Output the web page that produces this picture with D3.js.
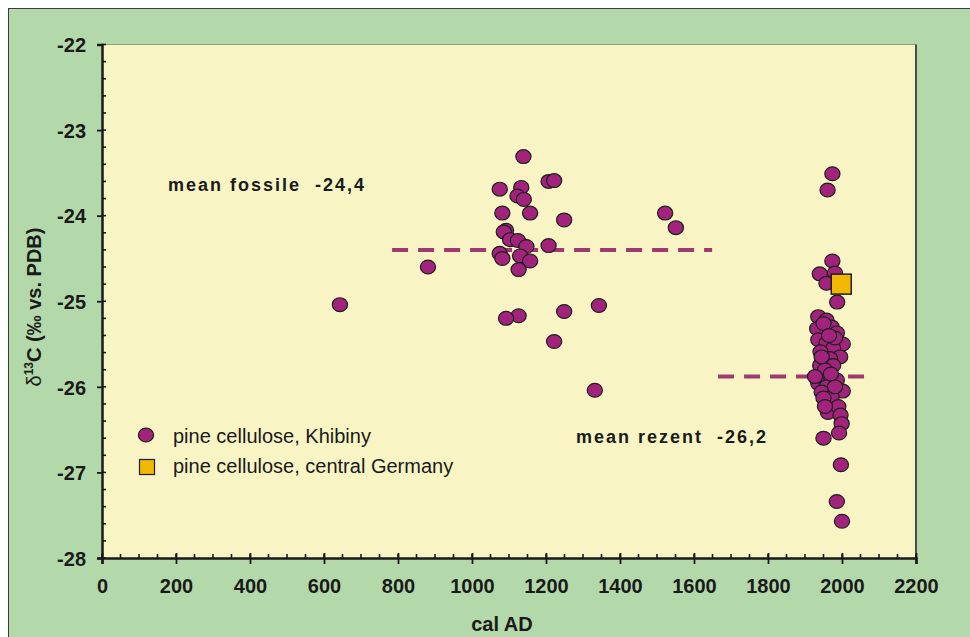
<!DOCTYPE html>
<html>
<head>
<meta charset="utf-8">
<script src="https://cdn.jsdelivr.net/npm/d3@7"></script>
<style>
  html, body { margin: 0; padding: 0; background: #fff; }
  svg { display: block; font-family: "Liberation Sans", Arial, sans-serif; }
</style>
</head>
<body>
<svg id="chart" width="970" height="637"></svg>
<script>
// Khibiny pine cellulose, fossil wood (year AD, d13C)
const fossilYears = [643, 881, 1139, 1075, 1133, 1123, 1140, 1207, 1222, 1082, 1157, 1249,
  1092, 1086, 1103, 1124, 1147, 1207, 1075, 1082, 1130, 1157, 1126, 1126, 1092, 1249,
  1343, 1222, 1332, 1522, 1551];
const fossilValues = [-25.04, -24.6, -23.31, -23.69, -23.67, -23.77, -23.81, -23.60, -23.59, -23.97, -23.97, -24.05,
  -24.17, -24.19, -24.28, -24.29, -24.36, -24.35, -24.44, -24.50, -24.47, -24.53, -24.63, -25.17, -25.2, -25.12,
  -25.05, -25.47, -26.04, -23.97, -24.14];

// Khibiny pine cellulose, recent trees
const recentYears = [1974, 1961, 1974, 1940, 1981, 1958, 1987, 1936, 1958, 1972, 1933, 1986,
  2002, 1936, 1958, 1976, 1942, 1995, 1968, 1941, 1976, 1954, 1986, 1936, 1958, 2002,
  1945, 1972, 1950, 1962, 1990, 1996, 1999, 1992, 1950, 1997, 1986, 2000,
  1950, 1981, 1927, 1981, 1954, 1965, 1945, 1970];
const recentValues = [-23.51, -23.70, -24.53, -24.68, -24.67, -24.79, -25.01, -25.18, -25.22, -25.30, -25.32, -25.37,
  -25.50, -25.45, -25.49, -25.55, -25.59, -25.65, -25.67, -25.75, -25.75, -25.80, -25.92, -25.96, -26.0, -26.05,
  -26.06, -26.12, -26.13, -26.30, -26.23, -26.33, -26.43, -26.54, -26.60, -26.91, -27.34, -27.57,
  -25.26, -25.43, -25.88, -26.0, -26.23, -25.40, -25.65, -25.85];

// pine cellulose, central Germany
const germanyYears = [1998];
const germanyValues = [-24.80];

// mean lines as drawn: [x start, x end, value]
const meanFossil = [784, 1649, -24.4];
const meanRecent = [1665, 2065, -25.88];

const xTicks = d3.range(0, 2201, 200);
const yTicks = d3.range(-28, -21.9, 1);

const legendLabels = ["pine cellulose, Khibiny", "pine cellulose, central Germany"];

const svg = d3.select("#chart");

// figure background + frame
svg.append("rect").attr("x", 8.5).attr("y", 8.5).attr("width", 970).attr("height", 640)
  .attr("fill", "#b3d9aa").attr("stroke", "#3a3a3a").attr("stroke-width", 1);

const plotL = 102, plotR = 916, plotT = 44.5, plotB = 558;

const x = d3.scaleLinear().domain([0, 2200]).range([plotL, plotR]);
const y = d3.scaleLinear().domain([-28, -22]).range([plotB, plotT]);

// plot area
svg.append("rect").attr("x", plotL).attr("y", plotT).attr("width", plotR - plotL).attr("height", plotB - plotT)
  .attr("fill", "#f8f4c4");
svg.append("line").attr("x1", plotL).attr("x2", plotR).attr("y1", plotT).attr("y2", plotT)
  .attr("stroke", "#9a9a8a").attr("stroke-width", 1);
svg.append("line").attr("x1", plotR).attr("x2", plotR).attr("y1", plotT).attr("y2", plotB)
  .attr("stroke", "#4a4a4a").attr("stroke-width", 2);

// minor ticks
const g = svg.append("g").attr("stroke", "#1a1a1a").attr("stroke-width", 1.6);
g.selectAll(".mx").data(d3.range(0, 2201, 50)).join("line")
  .attr("x1", d => x(d)).attr("x2", d => x(d)).attr("y1", plotB).attr("y2", plotB - 4);
g.selectAll(".my").data(d3.range(0, 31).map(i => -28 + i * 0.2)).join("line")
  .attr("y1", d => y(d)).attr("y2", d => y(d)).attr("x1", plotL).attr("x2", plotL + 4);

// axes
const xAxis = svg.append("g").attr("transform", `translate(0,${plotB})`)
  .call(d3.axisBottom(x).tickValues(xTicks).tickSize(6).tickPadding(15).tickFormat(d3.format("d")));
const yAxis = svg.append("g").attr("transform", `translate(${plotL},0)`)
  .call(d3.axisLeft(y).tickValues(yTicks).tickSize(5).tickPadding(11).tickFormat(d => d.toString().replace("−", "-")));
[xAxis, yAxis].forEach(a => {
  a.select(".domain").attr("stroke", "#1a1a1a").attr("stroke-width", 2.5);
  a.selectAll(".tick line").attr("stroke", "#1a1a1a").attr("stroke-width", 1.8);
  a.selectAll("text").attr("fill", "#1a1a1a").attr("font-size", 20).attr("font-weight", "bold")
    .attr("font-family", "'Liberation Sans', Arial, sans-serif");
});
xAxis.selectAll(".tick line").attr("y1", -5);
yAxis.selectAll(".tick text").attr("dy", "0.36em");

// axis titles
svg.append("text").attr("x", 502).attr("y", 631).attr("text-anchor", "middle")
  .attr("font-size", 20).attr("font-weight", "bold").attr("fill", "#1a1a1a").text("cal AD");
const yl = svg.append("text").attr("transform", "translate(41,307) rotate(-90)")
  .attr("text-anchor", "middle").attr("font-size", 20).attr("fill", "#1a1a1a");
yl.append("tspan").text("δ");
yl.append("tspan").attr("font-size", 12).attr("font-weight", "bold").attr("dy", -8).text("13");
yl.append("tspan").attr("font-weight", "bold").attr("dy", 8).text("C (‰ vs. PDB)");

// mean lines
svg.selectAll(".mean").data([meanFossil, meanRecent]).join("line")
  .attr("x1", d => x(d[0])).attr("x2", d => x(d[1]))
  .attr("y1", d => y(d[2])).attr("y2", d => y(d[2]))
  .attr("stroke", "#9e3a6e").attr("stroke-width", 4).attr("stroke-dasharray", "16,10");

// points
const pts = fossilYears.map((d, i) => [d, fossilValues[i]])
  .concat(recentYears.map((d, i) => [d, recentValues[i]]));
svg.append("g").selectAll("ellipse").data(pts).join("ellipse")
  .attr("cx", d => x(d[0])).attr("cy", d => y(d[1]))
  .attr("rx", 7.6).attr("ry", 6.9)
  .attr("fill", "#a2237c").attr("stroke", "#1e1e1e").attr("stroke-width", 1.2);

svg.append("g").selectAll("rect").data(germanyYears.map((d, i) => [d, germanyValues[i]])).join("rect")
  .attr("x", d => x(d[0]) - 10).attr("y", d => y(d[1]) - 10)
  .attr("width", 20).attr("height", 20)
  .attr("fill", "#f2b800").attr("stroke", "#1e1e1e").attr("stroke-width", 1.5);

// annotations
svg.append("text").attr("x", 168).attr("y", 191).attr("font-size", 18).attr("font-weight", "bold")
  .attr("letter-spacing", 2).attr("fill", "#1a1a1a").attr("xml:space", "preserve").text("mean fossile  -24,4");
svg.append("text").attr("x", 576).attr("y", 443).attr("font-size", 18).attr("font-weight", "bold")
  .attr("letter-spacing", 2).attr("fill", "#1a1a1a").attr("xml:space", "preserve").text("mean rezent  -26,2");

// legend
svg.append("ellipse").attr("cx", 146).attr("cy", 435).attr("rx", 7.6).attr("ry", 6.9)
  .attr("fill", "#a2237c").attr("stroke", "#1e1e1e").attr("stroke-width", 1.2);
svg.append("rect").attr("x", 139.5).attr("y", 459.5).attr("width", 15).attr("height", 15)
  .attr("fill", "#f2b800").attr("stroke", "#1e1e1e").attr("stroke-width", 1.2);
svg.selectAll(".leg").data(legendLabels).join("text")
  .attr("x", 173).attr("y", (d, i) => 443 + i * 30)
  .attr("font-size", 20).attr("fill", "#1a1a1a").text(d => d);
</script>
</body>
</html>
